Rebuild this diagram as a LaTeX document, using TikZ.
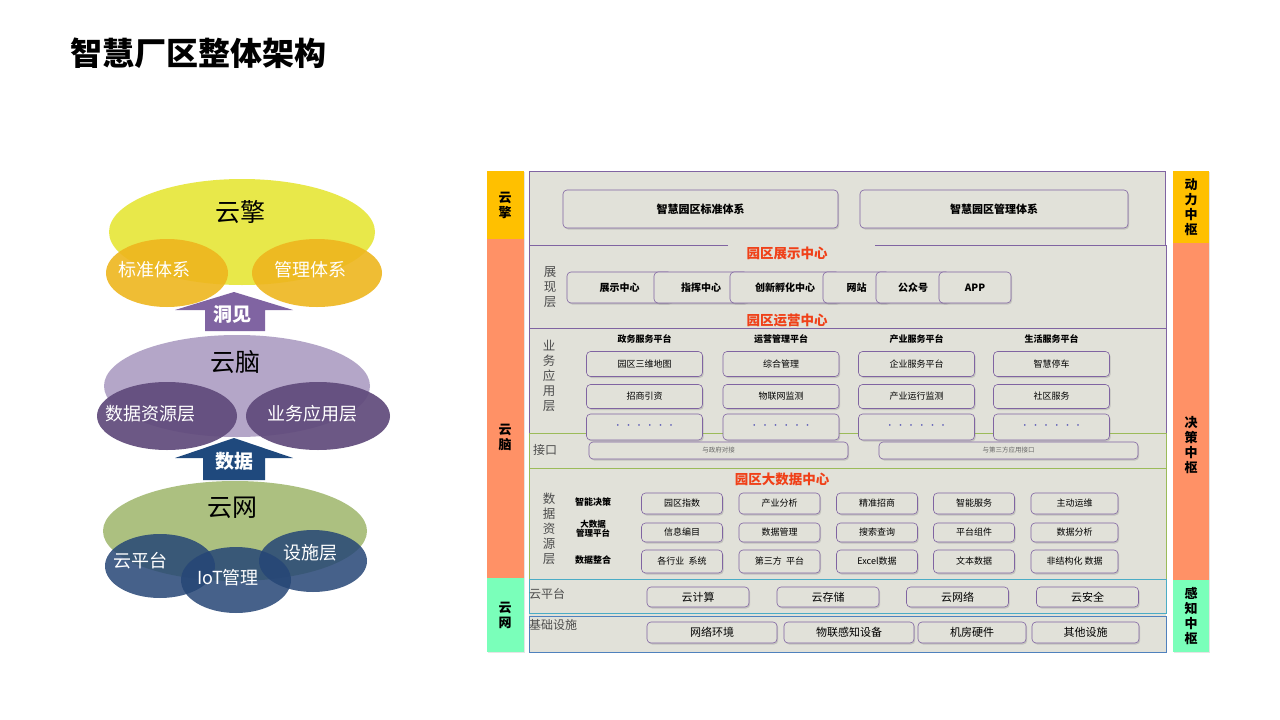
\documentclass[tikz,border=0pt]{standalone}
\usepackage{fontspec}
\setmainfont{Noto Sans CJK SC}
\usetikzlibrary{positioning, arrows.meta, calc, shadows, shapes.geometric}
\definecolor{panelgray}{RGB}{225,225,217}
\definecolor{boxline}{RGB}{128,100,162}
\definecolor{headred}{RGB}{240,64,24}
\definecolor{engyel}{RGB}{255,192,0}
\definecolor{brainor}{RGB}{255,145,102}
\definecolor{netgrn}{RGB}{122,255,186}
\definecolor{ifgreen}{RGB}{155,187,89}
\definecolor{cloudcyan}{RGB}{75,172,198}
\definecolor{infblue}{RGB}{79,129,189}
\definecolor{ovyel}{RGB}{232,232,74}
\definecolor{ovorg}{RGB}{238,182,30}
\definecolor{ovlil}{RGB}{180,166,200}
\definecolor{ovplum}{RGB}{96,74,123}
\definecolor{ovolive}{RGB}{172,192,128}
\definecolor{ovnavy}{RGB}{38,70,118}
\definecolor{arrpur}{RGB}{128,100,162}
\definecolor{arrnavy}{RGB}{31,73,125}
\tikzset{
  cell/.style={draw=boxline, semithick, rounded corners=4pt, fill=panelgray, inner sep=0pt,
    drop shadow={opacity=0.3, shadow xshift=1.2pt, shadow yshift=-1.5pt}},
  oval/.style={ellipse, inner sep=0pt},
  sidebar/.style={inner sep=0pt, anchor=north west,
    drop shadow={opacity=0.2, shadow xshift=1pt, shadow yshift=-1pt}},
  sidetxt/.style={font=\fontsize{13}{15}\selectfont\bfseries, align=center, inner sep=0pt},
  secttl/.style={text=headred, font=\fontsize{13.5}{15}\selectfont\bfseries},
  layer/.style={text=black!70, font=\fontsize{12.5}{15}\selectfont, align=center, inner sep=0pt},
  ovtxt/.style={text=white, font=\fontsize{18}{20}\selectfont},
  ovhead/.style={text=black, font=\fontsize{25}{27}\selectfont}
}
\begin{document}
\begin{tikzpicture}[x=1pt, y=-1pt]
\useasboundingbox[fill=white] (0,0) rectangle (1280,720);
\node[anchor=west, font=\fontsize{32}{34}\selectfont\bfseries] (title) at (67,53) {智慧厂区整体架构};

% left: three clouds
\node[oval, fill=ovyel, minimum width=266, minimum height=106] (engine) at (242,232) {};
\node[oval, fill=ovorg, opacity=0.9, minimum width=122, minimum height=68] (stdov) at (167,273) {};
\node[oval, fill=ovorg, opacity=0.9, minimum width=130, minimum height=68] (mgmtov) at (317,273) {};
\node[ovhead] at (240,212) {云擎};
\node[ovtxt] at (154,270) {标准体系};
\node[ovtxt] at (310,270) {管理体系};
\fill[arrpur] (205,331) -- (205,310) -- (175,310) -- (234,292) -- (293,310) -- (265,310) -- (265,331) -- cycle;
\node[ovtxt, font=\fontsize{19}{20}\selectfont\bfseries] (insight) at (232,314) {洞见};

\node[oval, fill=ovlil, minimum width=266, minimum height=102] (brain) at (237,386) {};
\node[oval, fill=ovplum, opacity=0.92, minimum width=140, minimum height=68] (dataov) at (167,416) {};
\node[oval, fill=ovplum, opacity=0.92, minimum width=144, minimum height=68] (bizov) at (318,416) {};
\node[ovhead] at (235,362) {云脑};
\node[ovtxt] at (150,414) {数据资源层};
\node[ovtxt] at (312,414) {业务应用层};
\fill[arrnavy] (203,480) -- (203,458) -- (175,458) -- (234,438) -- (293,458) -- (265,458) -- (265,480) -- cycle;
\node[ovtxt, font=\fontsize{19}{20}\selectfont\bfseries] (datatag) at (234,461) {数据};

\node[oval, fill=ovolive, minimum width=264, minimum height=100] (net) at (235,531) {};
\node[oval, fill=ovnavy, opacity=0.85, minimum width=110, minimum height=64] (cpov) at (160,566) {};
\node[oval, fill=ovnavy, opacity=0.85, minimum width=108, minimum height=62] (facov) at (313,561) {};
\node[oval, fill=ovnavy, opacity=0.85, minimum width=110, minimum height=66] (iotov) at (236,580) {};
\node[ovhead] at (232,508) {云网};
\node[ovtxt] at (140,561) {云平台};
\node[ovtxt] at (228,578) {IoT管理};
\node[ovtxt] at (310,553) {设施层};

% right: side bars
\node[sidebar, fill=engyel, minimum width=37, minimum height=68] (lbar1) at (487,171) {};
\node[sidebar, fill=brainor, minimum width=37, minimum height=339] (lbar2) at (487,239) {};
\node[sidebar, fill=netgrn, minimum width=37, minimum height=74] (lbar3) at (487,578) {};
\node[sidebar, fill=engyel, minimum width=36, minimum height=72] (rbar1) at (1173,171) {};
\node[sidebar, fill=brainor, minimum width=36, minimum height=337] (rbar2) at (1173,243) {};
\node[sidebar, fill=netgrn, minimum width=36, minimum height=72] (rbar3) at (1173,580) {};
\node[sidetxt] (engtag) at (505,205) {云\\擎};
\node[sidetxt] (braintag) at (505,437) {云\\脑};
\node[sidetxt] (nettag) at (505,615) {云\\网};
\node[sidetxt] (powtag) at (1191,207) {动\\力\\中\\枢};
\node[sidetxt] (dectag) at (1191,445) {决\\策\\中\\枢};
\node[sidetxt] (sentag) at (1191,616) {感\\知\\中\\枢};

% right: layer frames
\fill[panelgray] (529,171) rectangle (1166,652);
\draw[boxline, semithick] (529,245) -- (529,171) -- (1165,171) -- (1165,245);
\draw[boxline, semithick] (728,245) -- (529,245) -- (529,328) -- (1166,328) -- (1166,245) -- (875,245);
\draw[boxline, semithick] (529,433) -- (529,328) -- (1166,328) -- (1166,433);
\draw[ifgreen, semithick] (529,433) rectangle (1166,468);
\draw[ifgreen, semithick] (529,468) rectangle (1166,579);
\draw[cloudcyan, semithick] (529,579) rectangle (1166,613);
\draw[infblue, semithick] (529,616) rectangle (1166,652);

% engine layer
\node[cell, minimum width=275, minimum height=38, font=\fontsize{11}{12}\selectfont\bfseries] (stdsys) at (700.5,209) {智慧园区标准体系};
\node[cell, minimum width=268, minimum height=38, font=\fontsize{11}{12}\selectfont\bfseries] (mgmtsys) at (994,209) {智慧园区管理体系};

% display layer
\node[secttl] (showhub) at (787,253) {园区展示中心};
\node[layer] (showlay) at (550,287) {展\\现\\层};
\foreach \nm/\l/\r/\txt in {disp/567/672/展示中心, cmd/654/748/指挥中心, inno/730/840/创新孵化中心,
    web/823/890/网站, wx/876/950/公众号, app/939/1011/APP}
  \node[cell, minimum width={(\r-\l)*1pt}, minimum height=31, font=\fontsize{10}{11}\selectfont\bfseries]
    (\nm) at ({(\l+\r)/2},287.5) {\txt};
\node[secttl] (ophub) at (787,320) {园区运营中心};

% business layer
\node[layer] (bizlay) at (549,376) {业\\务\\应\\用\\层};
\foreach \c/\cx/\hd/\ra/\rb in {1/644.5/政务服务平台/园区三维地图/招商引资, 2/781/运营管理平台/综合管理/物联网监测,
    3/916.5/产业服务平台/企业服务平台/产业运行监测, 4/1051.5/生活服务平台/智慧停车/社区服务} {
  \node[font=\fontsize{9}{10}\selectfont\bfseries] (hd\c) at (\cx,339) {\hd};
  \node[cell, minimum width=116, minimum height=25, font=\fontsize{9}{10}\selectfont] (ba\c) at (\cx,364) {\ra};
  \node[cell, minimum width=116, minimum height=24, font=\fontsize{9}{10}\selectfont] (bb\c) at (\cx,396.5) {\rb};
  \node[cell, minimum width=116, minimum height=26, text=blue!40!gray, font=\fontsize{8}{10}\selectfont] (bc\c) at (\cx,427) {·\,\,·\,\,·\,\,·\,\,·\,\,·};
}

% interface layer
\node[layer, font=\fontsize{12}{14}\selectfont] (iflay) at (545,450) {接口};
\node[cell, minimum width=259, minimum height=17, text=black!60, font=\fontsize{6.5}{7}\selectfont] (gov) at (718.5,450.5) {与政府对接};
\node[cell, minimum width=259, minimum height=17, text=black!60, font=\fontsize{6.5}{7}\selectfont] (third) at (1008.5,450.5) {与第三方应用接口};

% data resource layer
\node[secttl] (bighub) at (782,479) {园区大数据中心};
\node[layer] (datalay) at (549,529) {数\\据\\资\\源\\层};
\node[font=\fontsize{9}{10}\selectfont\bfseries] (rowa) at (593,502) {智能决策};
\node[font=\fontsize{8.5}{8}\selectfont\bfseries, align=center] (rowb) at (593,529) {大数据\\管理平台};
\node[font=\fontsize{9}{10}\selectfont\bfseries] (rowc) at (593,560) {数据整合};
\foreach \c/\cx/\w/\ra/\rb/\rc in {1/682/81/园区指数/信息编目/各行业\ \ 系统, 2/779.5/81/产业分析/数据管理/第三方\ \ 平台,
    3/877/81/精准招商/搜索查询/Excel数据, 4/974/81/智能服务/平台组件/文本数据, 5/1074.5/87/主动运维/数据分析/非结构化 数据} {
  \node[cell, minimum width=\w, minimum height=21, font=\fontsize{9}{10}\selectfont] (da\c) at (\cx,503.5) {\ra};
  \node[cell, minimum width=\w, minimum height=19, font=\fontsize{9}{10}\selectfont] (db\c) at (\cx,532.5) {\rb};
  \node[cell, minimum width=\w, minimum height=23, font=\fontsize{9}{10}\selectfont] (dc\c) at (\cx,561.5) {\rc};
}

% cloud platform layer
\node[layer, anchor=west, font=\fontsize{12}{14}\selectfont] (cplay) at (529,594) {云平台};
\foreach \nm/\cx/\txt in {comp/698/云计算, stor/828/云存储, cnet/957.5/云网络, csec/1087.5/云安全}
  \node[cell, minimum width=102, minimum height=20, font=\fontsize{11}{12}\selectfont] (\nm) at (\cx,597) {\txt};

% infrastructure layer
\node[layer, anchor=west, font=\fontsize{12}{14}\selectfont] (inflay) at (529,625) {基础设施};
\foreach \nm/\cx/\w/\txt in {netenv/712/130/网络环境, iotdev/849/130/物联感知设备, room/972/108/机房硬件, other/1085.5/107/其他设施}
  \node[cell, minimum width=\w, minimum height=21, font=\fontsize{11}{12}\selectfont] (\nm) at (\cx,632.5) {\txt};
\end{tikzpicture}
\end{document}
